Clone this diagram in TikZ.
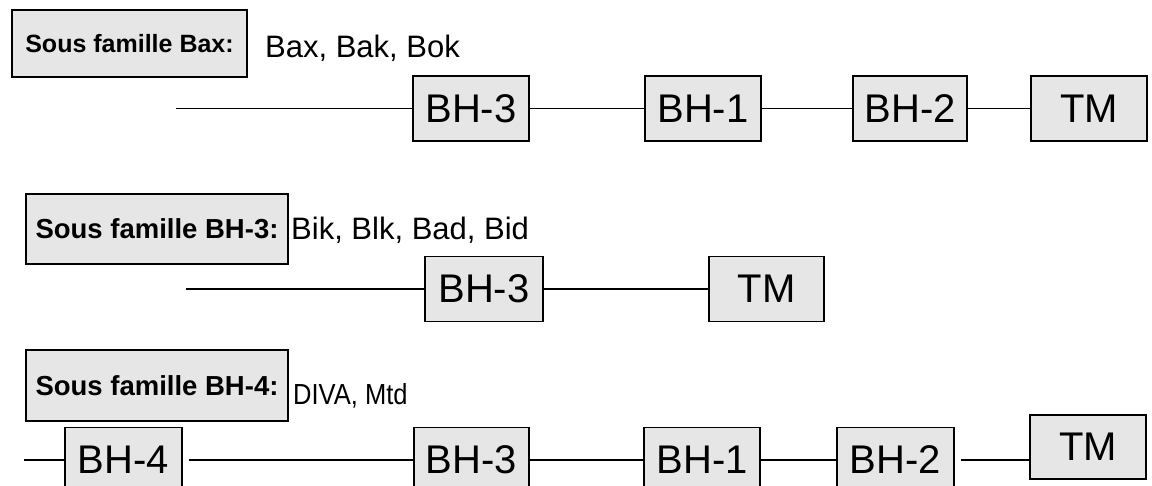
\documentclass[tikz,border=0pt]{standalone}
\usepackage{fontspec}
\setmainfont{Liberation Sans}
\newfontfamily\narrowsans[FakeStretch=0.88]{Liberation Sans}
\definecolor{boxfill}{HTML}{E6E6E6}
\tikzset{
  gene/.style={draw=black, fill=boxfill, line width=1.3pt, inner sep=0pt,
    minimum height=65pt, font=\fontsize{40}{44}\selectfont},
  famlabel/.style={draw=black, fill=boxfill, line width=1.3pt, inner sep=0pt,
    font=\bfseries\fontsize{27.5}{30}\selectfont},
  members/.style={anchor=base west, inner sep=0pt, font=\fontsize{31}{34}\selectfont},
  link/.style={draw=black, line width=1.2pt}
}
\begin{document}
\begin{tikzpicture}[x=1pt, y=-1pt]
\useasboundingbox (0,0) rectangle (1152,486);
% Row 1
\node[famlabel, minimum width=235pt, minimum height=67pt, font=\bfseries\fontsize{25}{28}\selectfont] (L1) at (129.5,43.5) {Sous famille Bax:};
\node[members] (T1) at (265,58) {Bax, Bak, Bok};
\coordinate (s1) at (176,108.5);
\node[gene, minimum width=116pt] (a3) at (471,108.5) {BH-3};
\node[gene, minimum width=116pt] (a1) at (703,108.5) {BH-1};
\node[gene, minimum width=114pt] (a2) at (910,108.5) {BH-2};
\node[gene, minimum width=116pt] (atm) at (1089,108.5) {TM};
\draw[link] (s1) -- (a3);
\draw[link] (a3) -- (a1);
\draw[link] (a1) -- (a2);
\draw[link] (a2) -- (atm);
% Row 2
\node[famlabel, minimum width=262pt, minimum height=70pt] (L2) at (157,229) {Sous famille BH-3:};
\node[members] (T2) at (291,240) {Bik, Blk, Bad, Bid};
\coordinate (s2) at (186,289);
\node[gene, minimum width=118pt] (b3) at (484,289) {BH-3};
\node[gene, minimum width=115pt] (btm) at (766.5,289) {TM};
\draw[link] (s2) -- (b3);
\draw[link] (b3) -- (btm);
% Row 3
\node[famlabel, minimum width=262pt, minimum height=71pt] (L3) at (157,385.5) {Sous famille BH-4:};
\node[members, font=\narrowsans\fontsize{29}{32}\selectfont] (T3) at (293,405) {DIVA, Mtd};
\coordinate (s3) at (24,460);
\node[gene, minimum width=117pt] (c4) at (123.5,460) {BH-4};
\node[gene, minimum width=115pt] (c3) at (471.5,460) {BH-3};
\node[gene, minimum width=116pt] (c1) at (702,460) {BH-1};
\node[gene, minimum width=117pt] (c2) at (895.5,460) {BH-2};
\node[gene, minimum width=116pt, minimum height=64pt] (ctm) at (1088,447) {TM};
\draw[link] (s3) -- (c4);
\draw[link, shorten <=6pt] (c4) -- (c3);
\draw[link] (c3) -- (c1);
\draw[link] (c1) -- (c2);
\draw[link, shorten <=6pt] (c2.east) -- (c2.east -| ctm.west);
\end{tikzpicture}
\end{document}
